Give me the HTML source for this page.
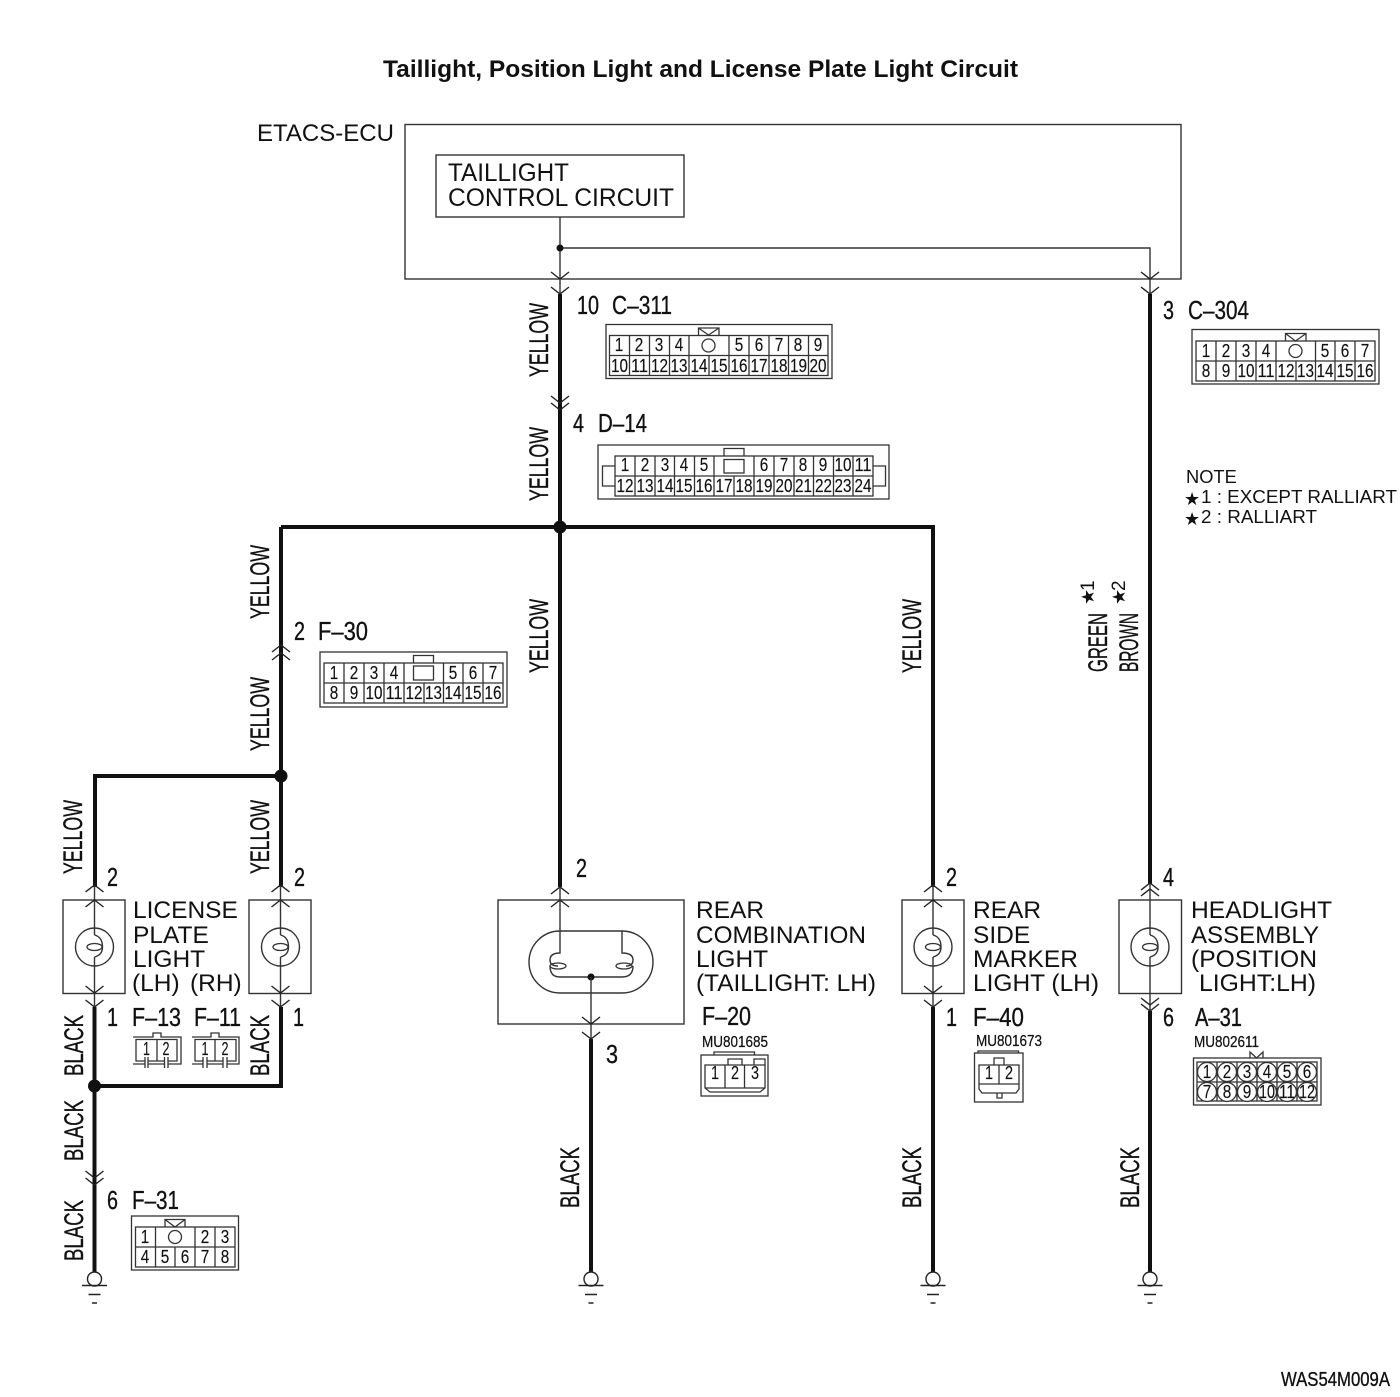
<!DOCTYPE html>
<html><head><meta charset="utf-8"><title>Taillight, Position Light and License Plate Light Circuit</title>
<style>
html,body{margin:0;padding:0;background:#fff}
svg{display:block}
text{font-family:"Liberation Sans",sans-serif;fill:#111}
.v{font-size:27px;stroke:#111;stroke-width:.35px}
.t{font-size:24.5px}
.l{font-size:26px;stroke:#111;stroke-width:.35px}
.d{font-size:18px;text-anchor:middle;stroke:#111;stroke-width:.15px}
.m{font-size:16px;stroke:#111;stroke-width:.25px}
.n{font-size:18.3px}
.k{fill:none;stroke:#111;stroke-width:4;stroke-linejoin:miter}
.w{fill:none;stroke:#333;stroke-width:1.4}
.c{fill:none;stroke:#333;stroke-width:1.3}
.a{fill:none;stroke:#222;stroke-width:1.4}
</style></head><body>
<svg width="1400" height="1397" viewBox="0 0 1400 1397" xmlns="http://www.w3.org/2000/svg">
<defs>
<path id="dn" class="a" d="M-9,-7 L0,0 L9,-7"/>
<path id="up" class="a" d="M-9,7 L0,0 L9,7"/>
<g id="gnd"><circle cx="0" cy="0" r="7" fill="#fff" stroke="#222" stroke-width="1.4"/><path class="a" d="M-12.5,6.500H12.500M-6,15.500H6M-2.500,24H2.500"/></g>
<g id="bulb"><circle cx="0" cy="0" r="19" fill="none" stroke="#333" stroke-width="1.4"/><ellipse cx="0" cy="0" rx="7.500" ry="3.500" fill="none" stroke="#333" stroke-width="1.3"/><path class="w" d="M0,-12 Q8,-10 8,0 Q8,8 0,10"/></g>
</defs>

<text x="383" y="77" font-size="24" font-weight="bold" textLength="635" lengthAdjust="spacingAndGlyphs">Taillight, Position Light and License Plate Light Circuit</text>
<text x="257" y="141" font-size="24" textLength="137" lengthAdjust="spacingAndGlyphs">ETACS-ECU</text>
<rect x="405" y="124.500" width="776" height="154.500" class="w"/>
<rect x="436" y="155" width="248" height="62" class="w"/>
<text x="448" y="181" font-size="25" textLength="121" lengthAdjust="spacingAndGlyphs">TAILLIGHT</text>
<text x="448" y="206" font-size="25" textLength="226" lengthAdjust="spacingAndGlyphs">CONTROL CIRCUIT</text>

<!-- thin wires -->
<path class="w" d="M560,217V294M560,248H1150V294"/>
<circle cx="560" cy="248" r="3.500" fill="#111"/>
<use href="#dn" x="560" y="279"/><use href="#dn" x="560" y="294"/>
<use href="#dn" x="1150" y="279"/><use href="#dn" x="1150" y="294"/>

<!-- thick wires -->
<path class="k" d="M560,294V887M281,527H933V887M281,527V887M281,776H95V887"/>
<path class="k" d="M1150,294V884"/>
<path class="k" d="M94.500,1007V1277M94.500,1086H281V1007"/>
<path class="k" d="M591,1039V1273M933,1007V1273M1150,1011V1273"/>
<circle cx="560" cy="527" r="6.500" fill="#111"/>
<circle cx="281" cy="776" r="6.500" fill="#111"/>
<circle cx="94.500" cy="1086" r="6.500" fill="#111"/>
<use href="#dn" x="560" y="403"/><use href="#dn" x="560" y="410"/>
<use href="#up" x="281" y="645"/><use href="#up" x="281" y="653"/>
<use href="#dn" x="94.500" y="1178"/><use href="#dn" x="94.500" y="1185"/>

<!-- grounds -->
<use href="#gnd" x="94.500" y="1279"/><use href="#gnd" x="591" y="1279"/><use href="#gnd" x="933" y="1279"/><use href="#gnd" x="1150" y="1279"/>

<!-- lamps -->
<rect x="63" y="900" width="62" height="93.500" class="w"/>
<path class="w" d="M94.500,885V935M94.500,957V1007"/>
<use href="#bulb" x="94.500" y="947"/>
<use href="#up" x="94.500" y="885"/><use href="#up" x="94.500" y="900"/><use href="#dn" x="94.500" y="993"/><use href="#dn" x="94.500" y="1007"/>

<rect x="249" y="900" width="62" height="93.500" class="w"/>
<path class="w" d="M280.500,885V935M280.500,957V1007"/>
<use href="#bulb" x="280.500" y="947"/>
<use href="#up" x="280.500" y="885"/><use href="#up" x="280.500" y="900"/><use href="#dn" x="280.500" y="993"/><use href="#dn" x="280.500" y="1007"/>

<rect x="498" y="900" width="186" height="124" class="w"/>
<rect x="529" y="931" width="124" height="62" rx="31" ry="31" class="w"/>
<path class="w" d="M560,886V953Q550,953 550,960Q550,966 558,966 M622,931V953Q633,953 633,960Q633,966 626,966 M550,966Q550,977 560,977H622Q633,977 633,966"/>
<ellipse cx="558" cy="966" rx="8" ry="3" fill="none" stroke="#333" stroke-width="1.3"/>
<ellipse cx="624" cy="966" rx="8" ry="3" fill="none" stroke="#333" stroke-width="1.3"/>
<circle cx="591" cy="977" r="3.500" fill="#111"/>
<path class="w" d="M591,977V1039"/>
<use href="#up" x="560" y="887"/><use href="#up" x="560" y="900"/><use href="#dn" x="591" y="1024"/><use href="#dn" x="591" y="1039"/>

<rect x="902" y="900" width="62" height="93.500" class="w"/>
<path class="w" d="M933,885V935M933,957V1007"/>
<use href="#bulb" x="933" y="947"/>
<use href="#up" x="933" y="885"/><use href="#up" x="933" y="900"/><use href="#dn" x="933" y="993"/><use href="#dn" x="933" y="1007"/>

<rect x="1119" y="900" width="62.500" height="93.500" class="w"/>
<path class="w" d="M1150,883V935M1150,957V1011"/>
<use href="#bulb" x="1150" y="947"/>
<use href="#up" x="1150" y="883"/><use href="#up" x="1150" y="889"/><use href="#dn" x="1150" y="1005"/><use href="#dn" x="1150" y="1011"/>

<!-- vertical wire labels -->
<text class="v" transform="translate(548,377) rotate(-90)" textLength="74" lengthAdjust="spacingAndGlyphs">YELLOW</text>
<text class="v" transform="translate(548,501) rotate(-90)" textLength="74" lengthAdjust="spacingAndGlyphs">YELLOW</text>
<text class="v" transform="translate(269,619) rotate(-90)" textLength="74" lengthAdjust="spacingAndGlyphs">YELLOW</text>
<text class="v" transform="translate(269,751) rotate(-90)" textLength="74" lengthAdjust="spacingAndGlyphs">YELLOW</text>
<text class="v" transform="translate(82,874) rotate(-90)" textLength="74" lengthAdjust="spacingAndGlyphs">YELLOW</text>
<text class="v" transform="translate(269,874) rotate(-90)" textLength="74" lengthAdjust="spacingAndGlyphs">YELLOW</text>
<text class="v" transform="translate(548,673) rotate(-90)" textLength="74" lengthAdjust="spacingAndGlyphs">YELLOW</text>
<text class="v" transform="translate(921,673) rotate(-90)" textLength="74" lengthAdjust="spacingAndGlyphs">YELLOW</text>
<text class="v" transform="translate(83,1076) rotate(-90)" textLength="61" lengthAdjust="spacingAndGlyphs">BLACK</text>
<text class="v" transform="translate(269,1076) rotate(-90)" textLength="61" lengthAdjust="spacingAndGlyphs">BLACK</text>
<text class="v" transform="translate(83,1161) rotate(-90)" textLength="61" lengthAdjust="spacingAndGlyphs">BLACK</text>
<text class="v" transform="translate(83,1261) rotate(-90)" textLength="61" lengthAdjust="spacingAndGlyphs">BLACK</text>
<text class="v" transform="translate(579,1208) rotate(-90)" textLength="61" lengthAdjust="spacingAndGlyphs">BLACK</text>
<text class="v" transform="translate(921,1208) rotate(-90)" textLength="61" lengthAdjust="spacingAndGlyphs">BLACK</text>
<text class="v" transform="translate(1139,1208) rotate(-90)" textLength="61" lengthAdjust="spacingAndGlyphs">BLACK</text>
<text class="v" transform="translate(1107,672) rotate(-90)" textLength="59" lengthAdjust="spacingAndGlyphs">GREEN</text>
<text class="v" transform="translate(1138,672) rotate(-90)" textLength="59" lengthAdjust="spacingAndGlyphs">BROWN</text>
<text transform="translate(1094,605) rotate(-90)" font-size="18" style="font-family:'DejaVu Sans',sans-serif">★</text>
<text transform="translate(1094,591) rotate(-90)" font-size="19">1</text>
<text transform="translate(1125,605) rotate(-90)" font-size="18" style="font-family:'DejaVu Sans',sans-serif">★</text>
<text transform="translate(1125,591) rotate(-90)" font-size="19">2</text>

<!-- pin + connector name labels -->
<text class="l" x="577" y="314" textLength="22" lengthAdjust="spacingAndGlyphs">10</text>
<text class="l" x="612" y="314" textLength="60" lengthAdjust="spacingAndGlyphs">C–311</text>
<text class="l" x="573" y="432" textLength="11" lengthAdjust="spacingAndGlyphs">4</text>
<text class="l" x="598" y="432" textLength="49" lengthAdjust="spacingAndGlyphs">D–14</text>
<text class="l" x="1163" y="319" textLength="11" lengthAdjust="spacingAndGlyphs">3</text>
<text class="l" x="1188" y="319" textLength="61" lengthAdjust="spacingAndGlyphs">C–304</text>
<text class="l" x="294" y="640" textLength="11" lengthAdjust="spacingAndGlyphs">2</text>
<text class="l" x="318" y="640" textLength="50" lengthAdjust="spacingAndGlyphs">F–30</text>
<text class="l" x="107" y="886" textLength="11" lengthAdjust="spacingAndGlyphs">2</text>
<text class="l" x="294" y="886" textLength="11" lengthAdjust="spacingAndGlyphs">2</text>
<text class="l" x="107" y="1026" textLength="11" lengthAdjust="spacingAndGlyphs">1</text>
<text class="l" x="293" y="1026" textLength="11" lengthAdjust="spacingAndGlyphs">1</text>
<text class="l" x="132" y="1026" textLength="49" lengthAdjust="spacingAndGlyphs">F–13</text>
<text class="l" x="194" y="1026" textLength="47" lengthAdjust="spacingAndGlyphs">F–11</text>
<text class="l" x="576" y="877" textLength="11" lengthAdjust="spacingAndGlyphs">2</text>
<text class="l" x="606" y="1063" textLength="12" lengthAdjust="spacingAndGlyphs">3</text>
<text class="l" x="702" y="1025" textLength="49" lengthAdjust="spacingAndGlyphs">F–20</text>
<text class="l" x="946" y="886" textLength="11" lengthAdjust="spacingAndGlyphs">2</text>
<text class="l" x="946" y="1026" textLength="11" lengthAdjust="spacingAndGlyphs">1</text>
<text class="l" x="973" y="1026" textLength="51" lengthAdjust="spacingAndGlyphs">F–40</text>
<text class="l" x="1163" y="886" textLength="11" lengthAdjust="spacingAndGlyphs">4</text>
<text class="l" x="1163" y="1026" textLength="11" lengthAdjust="spacingAndGlyphs">6</text>
<text class="l" x="1195" y="1026" textLength="47" lengthAdjust="spacingAndGlyphs">A–31</text>
<text class="l" x="107" y="1209" textLength="11" lengthAdjust="spacingAndGlyphs">6</text>
<text class="l" x="132" y="1209" textLength="47" lengthAdjust="spacingAndGlyphs">F–31</text>
<text class="m" x="702" y="1047" textLength="66" lengthAdjust="spacingAndGlyphs">MU801685</text>
<text class="m" x="976" y="1046" textLength="66" lengthAdjust="spacingAndGlyphs">MU801673</text>
<text class="m" x="1194" y="1047" textLength="65" lengthAdjust="spacingAndGlyphs">MU802611</text>

<!-- lamp labels -->
<text class="t" x="133" y="918">LICENSE</text>
<text class="t" x="133" y="943">PLATE</text>
<text class="t" x="133" y="967">LIGHT</text>
<text class="t" x="132" y="991">(LH)</text>
<text class="t" x="190" y="991">(RH)</text>
<text class="t" x="696" y="918">REAR</text>
<text class="t" x="696" y="943" textLength="170" lengthAdjust="spacingAndGlyphs">COMBINATION</text>
<text class="t" x="696" y="967">LIGHT</text>
<text class="t" x="696" y="991" textLength="180" lengthAdjust="spacingAndGlyphs">(TAILLIGHT: LH)</text>
<text class="t" x="973" y="918">REAR</text>
<text class="t" x="973" y="943">SIDE</text>
<text class="t" x="973" y="967" textLength="105" lengthAdjust="spacingAndGlyphs">MARKER</text>
<text class="t" x="973" y="991" textLength="126" lengthAdjust="spacingAndGlyphs">LIGHT (LH)</text>
<text class="t" x="1191" y="918" textLength="141" lengthAdjust="spacingAndGlyphs">HEADLIGHT</text>
<text class="t" x="1191" y="943" textLength="128" lengthAdjust="spacingAndGlyphs">ASSEMBLY</text>
<text class="t" x="1191" y="967" textLength="126" lengthAdjust="spacingAndGlyphs">(POSITION</text>
<text class="t" x="1199" y="991" textLength="117" lengthAdjust="spacingAndGlyphs">LIGHT:LH)</text>

<!-- note -->
<text class="n" x="1186" y="483">NOTE</text>
<text x="1184" y="505" font-size="18" style="font-family:'DejaVu Sans',sans-serif">★</text>
<text class="n" x="1201" y="503" textLength="196" lengthAdjust="spacingAndGlyphs">1 : EXCEPT RALLIART</text>
<text x="1184" y="525" font-size="18" style="font-family:'DejaVu Sans',sans-serif">★</text>
<text class="n" x="1201" y="523" textLength="116" lengthAdjust="spacingAndGlyphs">2 : RALLIART</text>

<text x="1281" y="1386" font-size="20" textLength="109" lengthAdjust="spacingAndGlyphs" stroke="#111" stroke-width=".35">WAS54M009A</text>

<!-- C-311 -->
<g>
<rect x="606" y="324.500" width="226" height="54" class="c"/>
<rect x="609.500" y="335.500" width="218.500" height="40" class="c"/>
<path class="c" d="M609.500,355.500H828M629.500,335.500V375.500M649.500,335.500V375.500M669.500,335.500V375.500M689,335.500V375.500M729,335.500V375.500M749,335.500V375.500M769,335.500V375.500M788.500,335.500V375.500M808.500,335.500V375.500M709,355.500V375.500"/>
<path class="c" d="M698.500,335V328H719V335M698.500,328L708.500,335L719,328"/>
<circle cx="708.500" cy="345.500" r="6.500" class="c"/>
<text class="d" x="619" y="351" textLength="8.500" lengthAdjust="spacingAndGlyphs">1</text><text class="d" x="639" y="351" textLength="8.500" lengthAdjust="spacingAndGlyphs">2</text><text class="d" x="659" y="351" textLength="8.500" lengthAdjust="spacingAndGlyphs">3</text><text class="d" x="679" y="351" textLength="8.500" lengthAdjust="spacingAndGlyphs">4</text><text class="d" x="739" y="351" textLength="8.500" lengthAdjust="spacingAndGlyphs">5</text><text class="d" x="759" y="351" textLength="8.500" lengthAdjust="spacingAndGlyphs">6</text><text class="d" x="779" y="351" textLength="8.500" lengthAdjust="spacingAndGlyphs">7</text><text class="d" x="798" y="351" textLength="8.500" lengthAdjust="spacingAndGlyphs">8</text><text class="d" x="818" y="351" textLength="8.500" lengthAdjust="spacingAndGlyphs">9</text>
<text class="d" x="619.500" y="372" textLength="17" lengthAdjust="spacingAndGlyphs">10</text><text class="d" x="639.500" y="372" textLength="17" lengthAdjust="spacingAndGlyphs">11</text><text class="d" x="659.500" y="372" textLength="17" lengthAdjust="spacingAndGlyphs">12</text><text class="d" x="679" y="372" textLength="17" lengthAdjust="spacingAndGlyphs">13</text><text class="d" x="699" y="372" textLength="17" lengthAdjust="spacingAndGlyphs">14</text><text class="d" x="719" y="372" textLength="17" lengthAdjust="spacingAndGlyphs">15</text><text class="d" x="739" y="372" textLength="17" lengthAdjust="spacingAndGlyphs">16</text><text class="d" x="759" y="372" textLength="17" lengthAdjust="spacingAndGlyphs">17</text><text class="d" x="779" y="372" textLength="17" lengthAdjust="spacingAndGlyphs">18</text><text class="d" x="798.500" y="372" textLength="17" lengthAdjust="spacingAndGlyphs">19</text><text class="d" x="818" y="372" textLength="17" lengthAdjust="spacingAndGlyphs">20</text>
</g>

<!-- D-14 -->
<g>
<rect x="598" y="445" width="291" height="54" class="c"/>
<rect x="615" y="456" width="258" height="40" class="c"/>
<path class="c" d="M615,476H873M635,456V496M655,456V496M674.500,456V496M694.500,456V496M714,456V496M734,476V496M754,456V496M774,456V496M794,456V496M813.500,456V496M833.500,456V496M853,456V496"/>
<path class="c" d="M615,466H602.500V486H615M873,466H885.500V486H873M724,456V448.500H744V456"/>
<rect x="724" y="459.500" width="20" height="13.500" class="c"/>
<text class="d" x="625" y="471" textLength="8.500" lengthAdjust="spacingAndGlyphs">1</text><text class="d" x="645" y="471" textLength="8.500" lengthAdjust="spacingAndGlyphs">2</text><text class="d" x="665" y="471" textLength="8.500" lengthAdjust="spacingAndGlyphs">3</text><text class="d" x="684" y="471" textLength="8.500" lengthAdjust="spacingAndGlyphs">4</text><text class="d" x="704" y="471" textLength="8.500" lengthAdjust="spacingAndGlyphs">5</text><text class="d" x="764" y="471" textLength="8.500" lengthAdjust="spacingAndGlyphs">6</text><text class="d" x="784" y="471" textLength="8.500" lengthAdjust="spacingAndGlyphs">7</text><text class="d" x="803" y="471" textLength="8.500" lengthAdjust="spacingAndGlyphs">8</text><text class="d" x="823" y="471" textLength="8.500" lengthAdjust="spacingAndGlyphs">9</text><text class="d" x="843" y="471" textLength="17" lengthAdjust="spacingAndGlyphs">10</text><text class="d" x="863" y="471" textLength="17" lengthAdjust="spacingAndGlyphs">11</text>
<text class="d" x="625" y="492" textLength="17" lengthAdjust="spacingAndGlyphs">12</text><text class="d" x="645" y="492" textLength="17" lengthAdjust="spacingAndGlyphs">13</text><text class="d" x="665" y="492" textLength="17" lengthAdjust="spacingAndGlyphs">14</text><text class="d" x="684" y="492" textLength="17" lengthAdjust="spacingAndGlyphs">15</text><text class="d" x="704" y="492" textLength="17" lengthAdjust="spacingAndGlyphs">16</text><text class="d" x="724" y="492" textLength="17" lengthAdjust="spacingAndGlyphs">17</text><text class="d" x="744" y="492" textLength="17" lengthAdjust="spacingAndGlyphs">18</text><text class="d" x="764" y="492" textLength="17" lengthAdjust="spacingAndGlyphs">19</text><text class="d" x="784" y="492" textLength="17" lengthAdjust="spacingAndGlyphs">20</text><text class="d" x="803.500" y="492" textLength="17" lengthAdjust="spacingAndGlyphs">21</text><text class="d" x="823.500" y="492" textLength="17" lengthAdjust="spacingAndGlyphs">22</text><text class="d" x="843" y="492" textLength="17" lengthAdjust="spacingAndGlyphs">23</text><text class="d" x="863" y="492" textLength="17" lengthAdjust="spacingAndGlyphs">24</text>
</g>

<!-- C-304 -->
<g>
<rect x="1192" y="329.500" width="187" height="54.500" class="c"/>
<rect x="1196" y="341" width="179" height="40" class="c"/>
<path class="c" d="M1196,361H1375M1216,341V381M1236,341V381M1256,341V381M1276,341V381M1315.500,341V381M1335,341V381M1355,341V381M1296,361V381"/>
<path class="c" d="M1285.500,341V333.500H1306V341M1285.500,333.500L1295.500,341L1306,333.500"/>
<circle cx="1295.500" cy="351" r="6.500" class="c"/>
<text class="d" x="1206" y="357" textLength="8.500" lengthAdjust="spacingAndGlyphs">1</text><text class="d" x="1226" y="357" textLength="8.500" lengthAdjust="spacingAndGlyphs">2</text><text class="d" x="1246" y="357" textLength="8.500" lengthAdjust="spacingAndGlyphs">3</text><text class="d" x="1266" y="357" textLength="8.500" lengthAdjust="spacingAndGlyphs">4</text><text class="d" x="1325" y="357" textLength="8.500" lengthAdjust="spacingAndGlyphs">5</text><text class="d" x="1345" y="357" textLength="8.500" lengthAdjust="spacingAndGlyphs">6</text><text class="d" x="1365" y="357" textLength="8.500" lengthAdjust="spacingAndGlyphs">7</text>
<text class="d" x="1206" y="377" textLength="8.500" lengthAdjust="spacingAndGlyphs">8</text><text class="d" x="1226" y="377" textLength="8.500" lengthAdjust="spacingAndGlyphs">9</text><text class="d" x="1246" y="377" textLength="17" lengthAdjust="spacingAndGlyphs">10</text><text class="d" x="1266" y="377" textLength="17" lengthAdjust="spacingAndGlyphs">11</text><text class="d" x="1286" y="377" textLength="17" lengthAdjust="spacingAndGlyphs">12</text><text class="d" x="1305.500" y="377" textLength="17" lengthAdjust="spacingAndGlyphs">13</text><text class="d" x="1325" y="377" textLength="17" lengthAdjust="spacingAndGlyphs">14</text><text class="d" x="1345" y="377" textLength="17" lengthAdjust="spacingAndGlyphs">15</text><text class="d" x="1365" y="377" textLength="17" lengthAdjust="spacingAndGlyphs">16</text>
</g>

<!-- F-30 -->
<g>
<rect x="320" y="652" width="187" height="55" class="c"/>
<rect x="324" y="663" width="179" height="40" class="c"/>
<path class="c" d="M324,683H503M344,663V703M364,663V703M384,663V703M404,663V703M443.500,663V703M463,663V703M483,663V703M424,683V703"/>
<path class="c" d="M413.500,663V655.500H433.500V663"/>
<rect x="413.500" y="666" width="20" height="14" class="c"/>
<text class="d" x="334" y="679" textLength="8.500" lengthAdjust="spacingAndGlyphs">1</text><text class="d" x="354" y="679" textLength="8.500" lengthAdjust="spacingAndGlyphs">2</text><text class="d" x="374" y="679" textLength="8.500" lengthAdjust="spacingAndGlyphs">3</text><text class="d" x="394" y="679" textLength="8.500" lengthAdjust="spacingAndGlyphs">4</text><text class="d" x="453" y="679" textLength="8.500" lengthAdjust="spacingAndGlyphs">5</text><text class="d" x="473" y="679" textLength="8.500" lengthAdjust="spacingAndGlyphs">6</text><text class="d" x="493" y="679" textLength="8.500" lengthAdjust="spacingAndGlyphs">7</text>
<text class="d" x="334" y="699" textLength="8.500" lengthAdjust="spacingAndGlyphs">8</text><text class="d" x="354" y="699" textLength="8.500" lengthAdjust="spacingAndGlyphs">9</text><text class="d" x="374" y="699" textLength="17" lengthAdjust="spacingAndGlyphs">10</text><text class="d" x="394" y="699" textLength="17" lengthAdjust="spacingAndGlyphs">11</text><text class="d" x="414" y="699" textLength="17" lengthAdjust="spacingAndGlyphs">12</text><text class="d" x="433.500" y="699" textLength="17" lengthAdjust="spacingAndGlyphs">13</text><text class="d" x="453" y="699" textLength="17" lengthAdjust="spacingAndGlyphs">14</text><text class="d" x="473" y="699" textLength="17" lengthAdjust="spacingAndGlyphs">15</text><text class="d" x="493" y="699" textLength="17" lengthAdjust="spacingAndGlyphs">16</text>
</g>

<!-- F-31 -->
<g>
<rect x="131.500" y="1216" width="107" height="54" class="c"/>
<rect x="135.500" y="1227" width="99.500" height="40" class="c"/>
<path class="c" d="M135.500,1247H235M155.500,1227V1267M195,1227V1267M215,1227V1267M175,1247V1267"/>
<path class="c" d="M165,1227V1219.500H185V1227M165,1219.500L175,1227L185,1219.500"/>
<circle cx="175" cy="1237" r="6.500" class="c"/>
<text class="d" x="145" y="1243" textLength="8.500" lengthAdjust="spacingAndGlyphs">1</text><text class="d" x="205" y="1243" textLength="8.500" lengthAdjust="spacingAndGlyphs">2</text><text class="d" x="225" y="1243" textLength="8.500" lengthAdjust="spacingAndGlyphs">3</text>
<text class="d" x="145" y="1263" textLength="8.500" lengthAdjust="spacingAndGlyphs">4</text><text class="d" x="165" y="1263" textLength="8.500" lengthAdjust="spacingAndGlyphs">5</text><text class="d" x="185" y="1263" textLength="8.500" lengthAdjust="spacingAndGlyphs">6</text><text class="d" x="205" y="1263" textLength="8.500" lengthAdjust="spacingAndGlyphs">7</text><text class="d" x="225" y="1263" textLength="8.500" lengthAdjust="spacingAndGlyphs">8</text>
</g>

<!-- F-13 -->
<g>
<path class="c" d="M133,1037H153V1033H161V1037H181V1064H168M164,1064H148M145,1064H133Z"/>
<path class="c" d="M145,1061H136V1039.500H177V1061H168M164,1061H148M157,1039.500V1061M145,1057V1068M148,1057V1068M164.500,1057V1068M168,1057V1068"/>
<text class="d" x="146.500" y="1055" textLength="7" lengthAdjust="spacingAndGlyphs">1</text><text class="d" x="166" y="1055" textLength="7" lengthAdjust="spacingAndGlyphs">2</text>
</g>
<!-- F-11 -->
<g>
<path class="c" d="M192,1037H211V1033H219V1037H239V1064H227M223,1064H207M203,1064H192Z"/>
<path class="c" d="M203,1061H195V1039.500H236V1061H227M223,1061H207M215,1039.500V1061M203,1057V1068M207,1057V1068M223,1057V1068M227,1057V1068"/>
<text class="d" x="205" y="1055" textLength="7" lengthAdjust="spacingAndGlyphs">1</text><text class="d" x="225" y="1055" textLength="7" lengthAdjust="spacingAndGlyphs">2</text>
</g>

<!-- F-20 -->
<g>
<rect x="701" y="1055" width="67" height="41" class="c"/>
<path class="c" d="M714,1055V1052H754.500V1055"/>
<path class="c" d="M728,1065V1059H742V1065M754,1065V1059H765V1065"/>
<path class="c" d="M705,1065H765V1088L760,1092H710L705,1088ZM705,1088H765M725,1065V1088M744.500,1065V1088"/>
<text class="d" x="715" y="1079" textLength="8" lengthAdjust="spacingAndGlyphs">1</text><text class="d" x="735" y="1079" textLength="8" lengthAdjust="spacingAndGlyphs">2</text><text class="d" x="755" y="1079" textLength="8" lengthAdjust="spacingAndGlyphs">3</text>
</g>

<!-- F-40 -->
<g>
<rect x="974.500" y="1053" width="48.500" height="49" class="c"/>
<path class="c" d="M978,1053V1051H1018.500V1053"/>
<path class="c" d="M994,1065V1058H1004V1065"/>
<path class="c" d="M979,1065H1019V1089L1016,1093H982L979,1089ZM979,1084H1019M999,1065V1084"/>
<path class="c" d="M997,1093V1098H1002V1093"/>
<text class="d" x="989" y="1079" textLength="8" lengthAdjust="spacingAndGlyphs">1</text><text class="d" x="1009" y="1079" textLength="8" lengthAdjust="spacingAndGlyphs">2</text>
</g>

<!-- A-31 -->
<g>
<rect x="1193.500" y="1058" width="127.500" height="47" class="c"/>
<rect x="1197" y="1062" width="120" height="39" class="c"/>
<path class="c" d="M1197,1082H1317M1250,1058V1052L1256.500,1058L1263,1052V1058"/>
<path class="c" d="M1217,1062V1101M1237,1062V1101M1257,1062V1101M1277,1062V1101M1297,1062V1101"/>
<g fill="#fff" stroke="#333" stroke-width="1.300">
<circle cx="1207" cy="1072" r="9.500"/><circle cx="1227" cy="1072" r="9.500"/><circle cx="1247" cy="1072" r="9.500"/><circle cx="1267" cy="1072" r="9.500"/><circle cx="1287" cy="1072" r="9.500"/><circle cx="1307" cy="1072" r="9.500"/>
<circle cx="1207" cy="1092" r="9.500"/><circle cx="1227" cy="1092" r="9.500"/><circle cx="1247" cy="1092" r="9.500"/><circle cx="1267" cy="1092" r="9.500"/><circle cx="1287" cy="1092" r="9.500"/><circle cx="1307" cy="1092" r="9.500"/>
</g>
<text class="d" x="1207" y="1078" textLength="8.500" lengthAdjust="spacingAndGlyphs">1</text><text class="d" x="1227" y="1078" textLength="8.500" lengthAdjust="spacingAndGlyphs">2</text><text class="d" x="1247" y="1078" textLength="8.500" lengthAdjust="spacingAndGlyphs">3</text><text class="d" x="1267" y="1078" textLength="8.500" lengthAdjust="spacingAndGlyphs">4</text><text class="d" x="1287" y="1078" textLength="8.500" lengthAdjust="spacingAndGlyphs">5</text><text class="d" x="1307" y="1078" textLength="8.500" lengthAdjust="spacingAndGlyphs">6</text>
<text class="d" x="1207" y="1098" textLength="8.500" lengthAdjust="spacingAndGlyphs">7</text><text class="d" x="1227" y="1098" textLength="8.500" lengthAdjust="spacingAndGlyphs">8</text><text class="d" x="1247" y="1098" textLength="8.500" lengthAdjust="spacingAndGlyphs">9</text><text class="d" x="1267" y="1098" textLength="16" lengthAdjust="spacingAndGlyphs">10</text><text class="d" x="1287" y="1098" textLength="16" lengthAdjust="spacingAndGlyphs">11</text><text class="d" x="1307" y="1098" textLength="16" lengthAdjust="spacingAndGlyphs">12</text>
</g>
</svg>
</body></html>
